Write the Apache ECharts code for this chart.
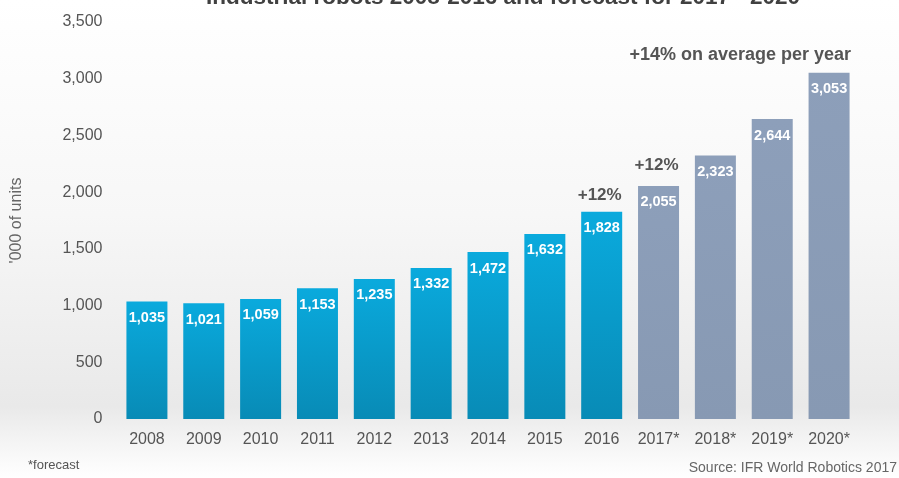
<!DOCTYPE html>
<html><head><meta charset="utf-8">
<script src="https://cdn.jsdelivr.net/npm/echarts@6/dist/echarts.min.js"></script>
<style>html,body{margin:0;padding:0;background:#fff}#c{width:899px;height:478px}</style>
</head><body><div id="c"></div>
<script>
const categories = ['2008','2009','2010','2011','2012','2013','2014','2015','2016','2017*','2018*','2019*','2020*'];
const values = [1035,1021,1059,1153,1235,1332,1472,1632,1828,2055,2323,2644,3053];
const forecastFrom = 9;
const yTicks = {min:0, max:3500, interval:500};
const annotations = [
  {cat:'2016', value:1828, text:'+12%'},
  {cat:'2017*', value:2055, text:'+12%'}
];
const avgNote = {cat:'2019*', value:3210, text:'+14% on average per year'};

const blue = new echarts.graphic.LinearGradient(0,0,0,1,[{offset:0,color:'#0aaadd'},{offset:1,color:'#088bb6'}]);
const grey = new echarts.graphic.LinearGradient(0,0,0,1,[{offset:0,color:'#8d9fba'},{offset:1,color:'#8799b3'}]);

const chart = echarts.init(document.getElementById('c'));
chart.setOption({
  backgroundColor: new echarts.graphic.LinearGradient(0,0,0,1,[
    {offset:0,color:'#ffffff'},{offset:0.45,color:'#f7f7f7'},{offset:0.85,color:'#e9e9e9'},{offset:0.93,color:'#f5f5f5'},{offset:1,color:'#ffffff'}]),
  animation:false,
  title:{text:'Industrial robots 2008-2016 and forecast for 2017 - 2020', left:498, textAlign:'center', top:-19,
    textStyle:{fontFamily:'Liberation Sans', fontSize:22.5, fontWeight:'bold', color:'#404040'}},
  grid:{left:118.5, right:41.5, top:22, bottom:59},
  xAxis:{type:'category', data:categories, axisLine:{show:false}, axisTick:{show:false},
    axisLabel:{fontFamily:'Liberation Sans', fontSize:16, color:'#555', margin:13}},
  yAxis:{type:'value', min:yTicks.min, max:yTicks.max, interval:yTicks.interval,
    name:"'000 of units", nameLocation:'middle', nameGap:94, nameRotate:90,
    nameTextStyle:{fontFamily:'Liberation Sans', fontSize:16, color:'#666'},
    splitLine:{show:false}, axisLine:{show:false}, axisTick:{show:false},
    axisLabel:{fontFamily:'Liberation Sans', fontSize:16, color:'#555', margin:16,
      formatter:v=>v.toLocaleString('en-US')}},
  series:[{
    type:'bar', barWidth:41,
    data: values.map((v,i)=>({value:v, itemStyle:{color: i>=forecastFrom?grey:blue}})),
    label:{show:true, position:'insideTop', distance:9, color:'#fff', fontFamily:'Liberation Sans',
      fontSize:14.5, fontWeight:'bold', formatter:p=>p.value.toLocaleString('en-US')},
    markPoint:{symbol:'circle', symbolSize:0, silent:true,
      label:{show:true, fontFamily:'Liberation Sans', fontSize:17, fontWeight:'bold', color:'#555'},
      data:[
        ...annotations.map((a,i)=>({coord:[a.cat,a.value], value:a.text,
          label:{formatter:a.text, offset:[-2, i===0?-16:-21]}})),
        {coord:[avgNote.cat, avgNote.value], value:avgNote.text,
          label:{formatter:avgNote.text, offset:[-32,0], fontSize:18}}
      ]}
  }],
  graphic:[
    {type:'text', left:28, top:459, style:{text:'*forecast', fontFamily:'Liberation Sans', fontSize:13, fill:'#555'}},
    {type:'text', right:2, top:461, style:{text:'Source: IFR World Robotics 2017', fontFamily:'Liberation Sans', fontSize:14, fill:'#666'}}
  ]
});
</script></body></html>
